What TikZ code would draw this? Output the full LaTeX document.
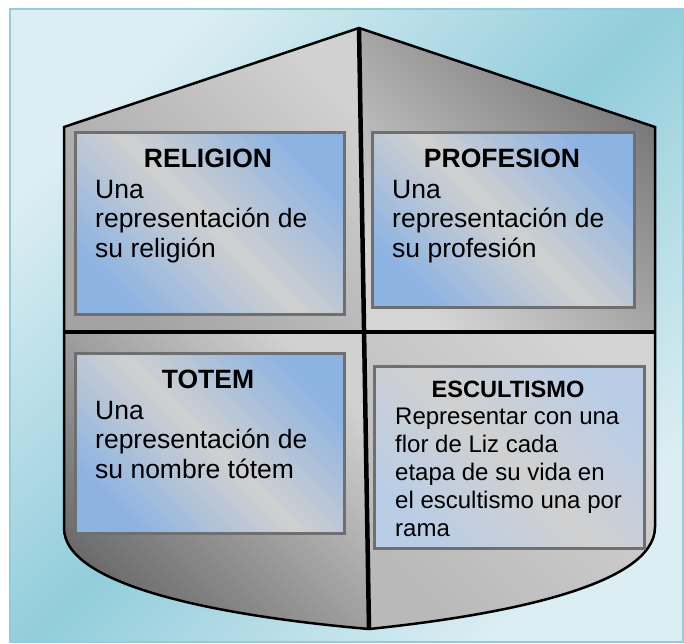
\documentclass[tikz,border=0pt]{standalone}
\usepackage{fontspec}
\setmainfont{Liberation Sans}
\usetikzlibrary{positioning}

\definecolor{fondoclaro}{HTML}{DCEEF3}
\definecolor{fondooscuro}{HTML}{92CDDB}
\definecolor{azulcaja}{HTML}{8DB3E2}
\definecolor{azulpalido}{HTML}{BACDE6}
\definecolor{griscaja}{HTML}{D0D0D0}
\definecolor{bordecaja}{HTML}{6F6F6F}
\definecolor{grisoscuro}{HTML}{767676}

\tikzset{
    fondo/.style={draw=fondooscuro, line width=2pt, left color=fondoclaro, right color=fondoclaro, middle color=fondooscuro, shading angle=45},
    cuadro/.style={draw=bordecaja, line width=2.6pt, inner sep=0pt, anchor=north west, left color=#1, right color=#1, middle color=griscaja, shading angle=135},
    cuadro/.default=azulcaja,
    titulo/.style={font=\bfseries\fontsize{26.5}{29.5}\selectfont, inner sep=0pt, anchor=base},
    texto/.style={font=\fontsize{26.5}{29.5}\selectfont, align=left, inner sep=0pt, anchor=north west}
}

\begin{document}
\begin{tikzpicture}[x=1pt, y=-1pt]

                    \useasboundingbox (0,0) rectangle (684,643);
                    \fill[white] (0,0) rectangle (684,643);
                    \draw[fondo] (9.5,8.5) rectangle (683,642);

                    % puntos del escudo
                    \coordinate (A) at (359,28);
                    \coordinate (LS) at (64,127);
                    \coordinate (RS) at (655,127);
                    \coordinate (ML) at (64,332);
                    \coordinate (MR) at (655,332);
                    \coordinate (C) at (364,332);
                    \coordinate (LC) at (64,528);
                    \coordinate (RC) at (655,527);
                    \coordinate (B) at (369,629);

                    \fill[left color=gray!72, right color=gray!36, shading angle=135] (LS) -- (A) -- (C) -- (ML) -- cycle;
                    \fill[left color=grisoscuro, right color=gray!33, shading angle=-45] (A) -- (RS) -- (MR) -- (C) -- cycle;
                    \fill[left color=black!58, right color=gray!36, shading angle=135]
                    (ML) -- (C) -- (B) .. controls (220,616) and (64,586) .. (LC) -- cycle;
                    \fill[left color=gray!55, right color=gray!34, shading angle=135]
                    (C) -- (MR) -- (RC) .. controls (655,585) and (505,615) .. (B) -- cycle;

                    \draw[line width=2.5pt] (A) -- (RS) -- (RC) .. controls (655,585) and (505,615) .. (B)
                    .. controls (220,616) and (64,586) .. (LC) -- (LS) -- cycle;
                    \draw[line width=4.5pt] (A) -- (B);
                    \draw[line width=4pt] (ML) -- (MR);

                    % cuadros
                    \foreach \nombre/\x/\y/\w/\h in {religion/74/131/269/182, profesion/371/131/262/175, totem/74/352/269/180}
                    \node[cuadro, minimum width=\w pt, minimum height=\h pt] (\nombre) at (\x,\y) {};
                    \node[cuadro=azulpalido, minimum width=270pt, minimum height=182pt] (escultismo) at (373,365) {};

                    \node[titulo] (religiontitulo) at (208,167) {RELIGION};
                    \node[titulo] (profesiontitulo) at (502,167) {PROFESION};
                    \node[titulo] (totemtitulo) at (208,388) {TOTEM};
                    \node[titulo, font=\bfseries\fontsize{23.6}{28}\selectfont] (escultismotitulo) at (508,397) {ESCULTISMO};

                    \node[texto] (religiontexto) at (95,180) {Una\\representación de\\su religión};
                    \node[texto] (profesiontexto) at (392,180) {Una\\representación de\\su profesión};
                    \node[texto] (totemtexto) at (95,401) {Una\\representación de\\su nombre tótem};
                    \node[texto, font=\fontsize{24}{28}\selectfont] (escultismotexto) at (395,408)
                    {Representar con una\\flor de Liz cada\\etapa de su vida en\\el escultismo una por\\rama};
                    %\node[texto] at (95,180) {Una};
\end{tikzpicture}
\end{document}
